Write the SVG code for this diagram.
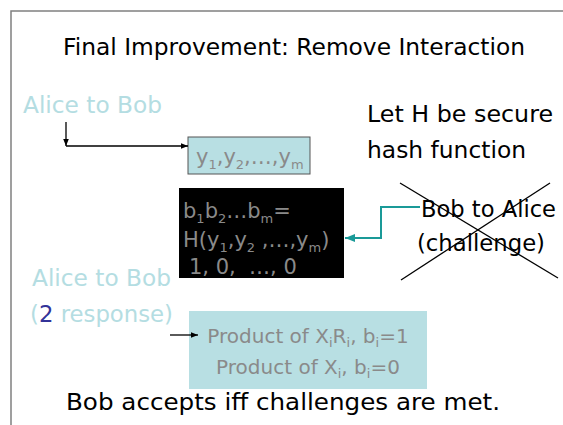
<svg xmlns="http://www.w3.org/2000/svg" width="563" height="425" viewBox="0 0 563 425">
  <defs>
    <style>
      text { font-family: "DejaVu Sans", "Liberation Sans", sans-serif; }
      .big { font-size: 23px; }
      .blk { fill: #000; }
      .lb { fill: #b4dde2; }
      .gr { fill: #8a8a8a; }
      .sub { font-size: 13px; }
      .frame { stroke: #808080; stroke-width: 1.5; fill: none; }
      .line { stroke: #000; stroke-width: 1.3; fill: none; }
    </style>
    <marker id="ah" viewBox="0 0 10 10" refX="10" refY="5" markerWidth="7" markerHeight="7" orient="auto" markerUnits="userSpaceOnUse">
      <path d="M0,1 L10,5 L0,9 z" fill="#000"/>
    </marker>
    <marker id="ahTeal" viewBox="0 0 10 10" refX="10" refY="5" markerWidth="10" markerHeight="10" orient="auto" markerUnits="userSpaceOnUse">
      <path d="M0,1 L10,5 L0,9 z" fill="#1a9a98"/>
    </marker>
  </defs>

  <rect width="563" height="425" fill="#fff"/>
  <!-- slide frame -->
  <path class="frame" d="M11,425 V11 H563"/>

  <text class="big blk" x="63" y="55" textLength="462" lengthAdjust="spacingAndGlyphs">Final Improvement: Remove Interaction</text>

  <g id="alice-commit-label">
    <text class="big lb" x="23" y="113" textLength="139" lengthAdjust="spacingAndGlyphs">Alice to Bob</text>
  </g>

  <g id="commit-box">
    <rect x="188" y="137" width="122" height="37" fill="#b8dfe3" stroke="#555" stroke-width="1"/>
    <text class="gr" x="196" y="164" font-size="21">y<tspan class="sub" dy="5">1</tspan><tspan dy="-5">,y</tspan><tspan class="sub" dy="5">2</tspan><tspan dy="-5">,…,y</tspan><tspan class="sub" dy="5">m</tspan></text>
  </g>

  <g id="hash-note">
    <text class="big blk" x="367" y="122" textLength="186" lengthAdjust="spacingAndGlyphs">Let H be secure</text>
    <text class="big blk" x="367" y="158" textLength="159" lengthAdjust="spacingAndGlyphs">hash function</text>
  </g>

  <g id="challenge-box">
    <rect x="179" y="188" width="165" height="90" fill="#000"/>
    <text class="gr" x="183" y="218" font-size="21">b<tspan class="sub" dy="5">1</tspan><tspan dy="-5">b</tspan><tspan class="sub" dy="5">2</tspan><tspan dy="-5">…b</tspan><tspan class="sub" dy="5">m</tspan><tspan dy="-5">=</tspan></text>
    <text class="gr" x="183" y="247" font-size="21">H(y<tspan class="sub" dy="5">1</tspan><tspan dy="-5">,y</tspan><tspan class="sub" dy="5">2</tspan><tspan dy="-5"> ,…,y</tspan><tspan class="sub" dy="5">m</tspan><tspan dy="-5">)</tspan></text>
    <text class="gr" x="189" y="274" font-size="21" xml:space="preserve">1, 0,  …, 0</text>
  </g>

  <g id="bob-challenge">
    <text class="big blk" x="421" y="217" textLength="135" lengthAdjust="spacingAndGlyphs">Bob to Alice</text>
    <text class="big blk" x="417" y="251" textLength="128" lengthAdjust="spacingAndGlyphs">(challenge)</text>
    <line class="line" x1="400" y1="183" x2="558" y2="278"/>
    <line class="line" x1="401" y1="280" x2="550" y2="183"/>
  </g>

  <g id="alice-response-label">
    <text class="big lb" x="32" y="286" textLength="139" lengthAdjust="spacingAndGlyphs">Alice to Bob</text>
    <text class="big lb" x="30" y="322" textLength="143" lengthAdjust="spacingAndGlyphs">(<tspan fill="#333399">2</tspan> response)</text>
  </g>

  <g id="response-box">
    <rect x="189" y="311" width="238" height="78" fill="#b8dfe3"/>
    <text class="gr" x="308" y="343" font-size="20" text-anchor="middle">Product of X<tspan class="sub" dy="4">i</tspan><tspan dy="-4">R</tspan><tspan class="sub" dy="4">i</tspan><tspan dy="-4">, b</tspan><tspan class="sub" dy="4">i</tspan><tspan dy="-4">=1</tspan></text>
    <text class="gr" x="308" y="374" font-size="20" text-anchor="middle">Product of X<tspan class="sub" dy="4">i</tspan><tspan dy="-4">, b</tspan><tspan class="sub" dy="4">i</tspan><tspan dy="-4">=0</tspan></text>
  </g>

  <text class="big blk" x="66" y="410" textLength="434" lengthAdjust="spacingAndGlyphs">Bob accepts iff challenges are met.</text>

  <g id="connectors">
    <path class="line" d="M66,122 V146" marker-end="url(#ah)"/>
    <path class="line" d="M66,146 H188" marker-end="url(#ah)"/>
    <path d="M420,207 H381 V238 H345" fill="none" stroke="#1a9a98" stroke-width="2" marker-end="url(#ahTeal)"/>
    <path class="line" d="M170,335 H198" marker-end="url(#ah)"/>
  </g>
</svg>
